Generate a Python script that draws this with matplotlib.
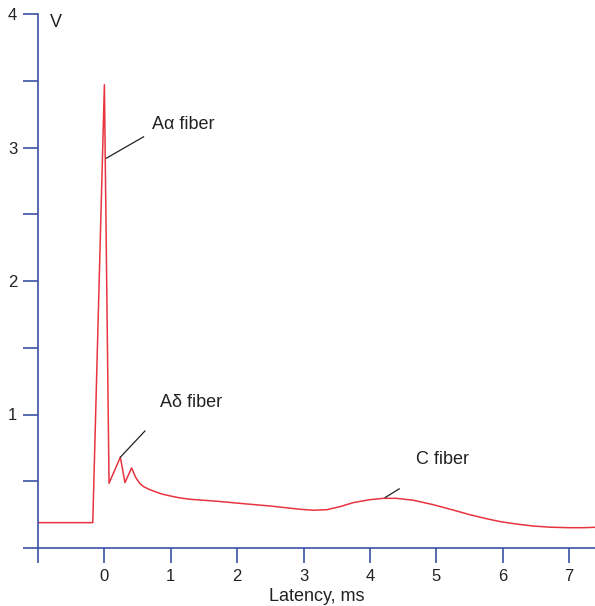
import numpy as np
import matplotlib.pyplot as plt

plt.rcParams['font.family'] = ['Liberation Sans', 'DejaVu Sans']

# compound action potential trace
latency = [-1.0, -0.175, 0.0, 0.07, 0.24, 0.31, 0.41, 0.47, 0.53, 0.59, 0.67,
           0.75, 0.86, 0.99, 1.14, 1.29, 1.7, 2.14, 2.49, 2.8, 2.95, 3.15,
           3.35, 3.55, 3.75, 4.0, 4.2, 4.4, 4.65, 4.95, 5.25, 5.5, 5.75,
           5.96, 6.2, 6.45, 6.71, 7.0, 7.21, 7.39]
volts = [0.19, 0.19, 3.47, 0.485, 0.68, 0.49, 0.60, 0.53, 0.485, 0.46, 0.44,
         0.425, 0.405, 0.39, 0.375, 0.365, 0.35, 0.33, 0.315, 0.298, 0.29, 0.283,
         0.287, 0.31, 0.34, 0.362, 0.372, 0.372, 0.358, 0.325, 0.285, 0.25, 0.22,
         0.198, 0.18, 0.165, 0.156, 0.152, 0.152, 0.155]

labels = ['A\u03b1 fiber', 'A\u03b4 fiber', 'C fiber']
label_pos = [(0.71, 3.17), (0.84, 1.09), (4.69, 0.66)]
pointer_from = [(0.03, 2.92), (0.24, 0.68), (4.23, 0.378)]
pointer_to = [(0.59, 3.08), (0.61, 0.876), (4.44, 0.443)]

blue = '#3b52a6'
red = '#e8343f'

fig = plt.figure(figsize=(5.95, 6.06), dpi=100)
W, H = 595, 606
ax = fig.add_axes([38 / W, (H - 548) / H, (595 - 38) / W, (548 - 14) / H])

ax.plot(latency, volts, color=red, lw=1.1)

for txt, (tx, ty), p0, p1 in zip(labels, label_pos, pointer_from, pointer_to):
    ax.plot([p0[0], p1[0]], [p0[1], p1[1]], color='#222222', lw=0.9)
    ax.text(tx, ty, txt, fontsize=13, ha='left', va='center', color='#222222')

ax.set_xlim(-1, 7.39)
ax.set_ylim(0, 4)
ax.set_xticks(range(-1, 8))
ax.set_xticklabels([''] + [str(i) for i in range(0, 8)])
ax.set_yticks(np.arange(0, 4.01, 0.5))
ax.set_yticklabels(['', '', '1', '', '2', '', '3', '', '4'])

for s in ['top', 'right']:
    ax.spines[s].set_visible(False)
for s in ['left', 'bottom']:
    ax.spines[s].set_color(blue)
    ax.spines[s].set_linewidth(1.2)
ax.tick_params(colors=blue, width=1.2, length=11, labelsize=12,
               labelcolor='#222222', pad=4)

ax.text(-0.82, 3.94, 'V', fontsize=13, ha='left', va='center', color='#222222')
ax.set_xlabel('Latency, ms', fontsize=13, color='#222222', labelpad=3)

fig.savefig('out.png', dpi=100)
